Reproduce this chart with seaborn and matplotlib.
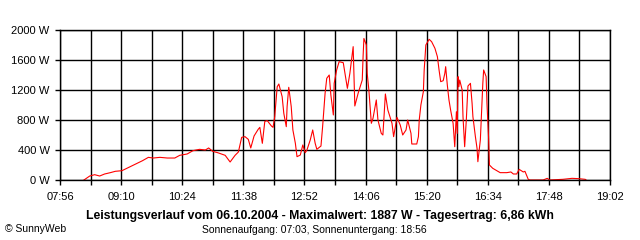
import pandas as pd
import matplotlib
matplotlib.use("Agg")
import matplotlib.pyplot as plt
import seaborn as sns

# Readings of 06.10.2004 (time of day, power in W)
times = [
    "08:25", "08:32", "08:38", "08:44", "08:50", "08:57", "09:03", "09:11", "09:21", "09:29",
    "09:36", "09:43", "09:49", "09:57", "10:06", "10:15", "10:21", "10:30", "10:37", "10:45",
    "10:52", "10:56", "11:01", "11:07", "11:16", "11:22", "11:28", "11:32", "11:36", "11:40",
    "11:44", "11:47", "11:51", "11:56", "11:58", "12:01", "12:04", "12:07", "12:12", "12:14",
    "12:16", "12:19", "12:21", "12:25", "12:27", "12:30", "12:31", "12:33", "12:36", "12:38",
    "12:41", "12:43", "12:47", "12:50", "12:53", "12:55", "12:59", "13:02", "13:05", "13:07",
    "13:12", "13:14", "13:17", "13:19", "13:22", "13:24", "13:27", "13:28", "13:31", "13:34",
    "13:39", "13:44", "13:47", "13:51", "13:53", "13:57", "14:02", "14:03", "14:04", "14:07",
    "14:08", "14:10", "14:13", "14:15", "14:19", "14:21", "14:25", "14:27", "14:30", "14:33",
    "14:38", "14:40", "14:44", "14:48", "14:51", "14:55", "14:57", "15:01", "15:02", "15:08",
    "15:10", "15:11", "15:13", "15:16", "15:17", "15:19", "15:23", "15:26", "15:30", "15:33",
    "15:35", "15:37", "15:40", "15:42", "15:43", "15:45", "15:47", "15:49", "15:52", "15:53",
    "15:54", "15:56", "15:57", "15:58", "15:59", "16:00", "16:03", "16:04", "16:06", "16:08",
    "16:10", "16:13", "16:15", "16:16", "16:19", "16:21", "16:22", "16:25", "16:27", "16:28",
    "16:29", "16:32", "16:33", "16:34", "16:35", "16:36", "16:40", "16:45", "16:49", "16:57",
    "17:02", "17:05", "17:09", "17:12", "17:17", "17:19", "17:23", "17:25", "17:41", "17:46",
    "17:49", "18:05", "18:16", "18:24", "18:32", "18:33",
]
power = [
    0, 53, 71, 53, 80, 98, 116, 124, 178, 222,
    258, 302, 293, 302, 293, 293, 329, 347, 391, 409,
    400, 427, 382, 364, 329, 240, 329, 373, 569, 578,
    542, 427, 587, 676, 702, 489, 782, 791, 720, 702,
    844, 1244, 1280, 1111, 889, 711, 978, 1236, 978, 667,
    489, 311, 333, 467, 364, 400, 533, 667, 489, 409,
    453, 711, 1156, 1356, 1400, 1133, 867, 1289, 1467, 1578,
    1564, 1222, 1422, 1778, 987, 1156, 1333, 1644, 1887, 1800,
    1422, 1200, 756, 822, 1067, 800, 622, 600, 1147, 933,
    756, 578, 836, 733, 600, 667, 800, 622, 480, 480,
    578, 800, 1000, 1178, 1467, 1800, 1876, 1844, 1756, 1644,
    1467, 1311, 1324, 1422, 1511, 1267, 1067, 933, 756, 600,
    444, 911, 622, 1378, 1244, 1333, 1200, 844, 444, 800,
    1253, 1289, 1022, 844, 578, 422, 244, 533, 1022, 1289,
    1467, 1378, 1022, 800, 556, 200, 156, 124, 98, 98,
    107, 80, 80, 142, 107, 116, 9, 0, 0, 22,
    0, 9, 22, 18, 9, 0,
]

x_labels = ["07:56", "09:10", "10:24", "11:38", "12:52", "14:06", "15:20", "16:34", "17:48", "19:02"]
y_ticks = [0, 400, 800, 1200, 1600, 2000]


def to_min(s):
    h, m = s.split(":")
    return int(h) * 60 + int(m)


df = pd.DataFrame({"t": [to_min(s) for s in times], "W": power})

plt.rcParams["font.family"] = ["Liberation Sans", "DejaVu Sans"]

fig = plt.figure(figsize=(6.4, 2.4), dpi=100)
ax = fig.add_axes([60 / 640, 1 - 180 / 240, 550 / 640, 150 / 240])

sns.lineplot(data=df, x="t", y="W", ax=ax, color="#ff0000", linewidth=0.8)

start, end = to_min(x_labels[0]), to_min(x_labels[-1])
ax.set_xlim(start, end)
ax.set_ylim(0, 2000)

# vertical grid every 37 min, labels every 74 min
grid_x = [start + 37 * i for i in range(19)]
ax.set_xticks(grid_x)
ax.set_xticklabels([x_labels[i // 2] if i % 2 == 0 else "" for i in range(19)])
ax.set_yticks(y_ticks)
ax.set_yticklabels([f"{v} W" for v in y_ticks])
ax.grid(True, color="black", linewidth=1.0)
ax.set_axisbelow(True)
ax.tick_params(axis="both", length=3.5, width=1.0, color="black", labelsize=8)
ax.tick_params(axis="y", pad=4)
ax.tick_params(axis="x", pad=5)
for sp in ax.spines.values():
    sp.set_color("black")
    sp.set_linewidth(1.0)
ax.set_xlabel("")
ax.set_ylabel("")

fig.text(0.5, 1 - 216 / 240, "Leistungsverlauf vom 06.10.2004 - Maximalwert: 1887 W - Tagesertrag: 6,86 kWh",
         ha="center", va="center", fontsize=8.8, fontweight="bold")
fig.text(314 / 640, 1 - 230 / 240, "Sonnenaufgang: 07:03, Sonnenuntergang: 18:56",
         ha="center", va="center", fontsize=7.5)
fig.text(5 / 640, 1 - 229 / 240, "\u00a9 SunnyWeb", ha="left", va="center", fontsize=7.5)

fig.savefig("out.png", dpi=100, facecolor="white")
